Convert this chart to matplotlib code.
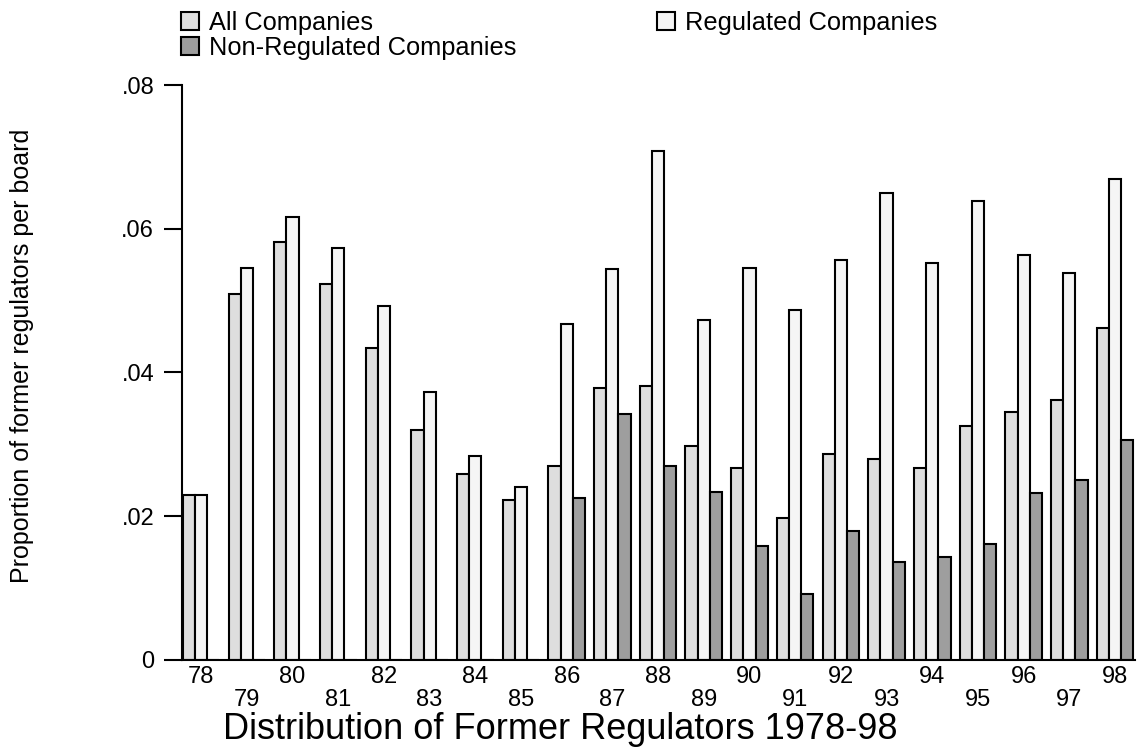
import matplotlib
matplotlib.use("Agg")
import matplotlib.pyplot as plt
import numpy as np

plt.rcParams["font.family"] = ["Liberation Sans", "DejaVu Sans"]

years = ["78", "79", "80", "81", "82", "83", "84", "85", "86", "87", "88",
         "89", "90", "91", "92", "93", "94", "95", "96", "97", "98"]

all_cos = [0.0229, 0.0509, 0.0581, 0.0523, 0.0434, 0.0320, 0.0259, 0.0223,
           0.0270, 0.0378, 0.0381, 0.0298, 0.0267, 0.0198, 0.0287, 0.0279,
           0.0267, 0.0326, 0.0345, 0.0362, 0.0462]
regulated = [0.0229, 0.0545, 0.0617, 0.0573, 0.0492, 0.0373, 0.0284, 0.0240,
             0.0468, 0.0544, 0.0708, 0.0473, 0.0546, 0.0487, 0.0557, 0.0650,
             0.0552, 0.0638, 0.0563, 0.0538, 0.0669]
non_regulated = [0, 0, 0, 0, 0, 0, 0, 0,
                 0.0226, 0.0342, 0.0270, 0.0234, 0.0159, 0.0092, 0.0179, 0.0137,
                 0.0143, 0.0162, 0.0232, 0.0251, 0.0306]

C_ALL = "#dedede"
C_REG = "#f5f5f5"
C_NON = "#9e9e9e"

x = np.arange(len(years))
w = 0.267
EDGE = dict(edgecolor="black", linewidth=1.5)

fig = plt.figure(figsize=(11.37, 7.51), dpi=100)
ax = fig.add_axes([0.160, 0.1212, 0.838, 0.7656])

b1 = ax.bar(x - w, all_cos, w, color=C_ALL, label="All Companies", **EDGE)
b2 = ax.bar(x, regulated, w, color=C_REG, label="Regulated Companies", **EDGE)
b3 = ax.bar(x + w, non_regulated, w, color=C_NON, label="Non-Regulated Companies", **EDGE)

ax.set_xlim(-0.42, 20.43)
ax.set_ylim(0, 0.08)
ax.set_yticks([0, 0.02, 0.04, 0.06, 0.08])
ax.set_yticklabels(["0", ".02", ".04", ".06", ".08"])
ax.tick_params(axis="y", length=13, width=1.5, pad=7, labelsize=17)

# even years on the upper row, odd years on the lower row
ax.set_xticks(x[::2])
ax.set_xticklabels(years[::2])
ax.set_xticks(x[1::2], minor=True)
ax.set_xticklabels(years[1::2], minor=True)
ax.tick_params(axis="x", which="major", length=0, pad=4, labelsize=17)
ax.tick_params(axis="x", which="minor", length=0, pad=21, labelsize=17)

ax.spines[["top", "right"]].set_visible(False)
ax.spines["left"].set_linewidth(1.5)
ax.spines["bottom"].set_linewidth(1.5)

ax.set_xlabel("Distribution of Former Regulators 1978-98", fontsize=26)
ax.xaxis.set_label_coords(0.397, -0.091)
fig.text(22 / 1137, 1 - 356 / 751, "Proportion of former regulators per board",
         rotation=90, ha="center", va="center", fontsize=18)

leg_kw = dict(frameon=False, loc="upper left", fontsize=18.3, borderpad=0,
              borderaxespad=0, handlelength=0.72, handleheight=0.72,
              handletextpad=0.4, labelspacing=0.05)
leg1 = fig.legend([b1, b3], ["All Companies", "Non-Regulated Companies"],
                  bbox_to_anchor=(181 / 1137, 1 - 11 / 751), **leg_kw)
leg2 = fig.legend([b2], ["Regulated Companies"],
                  bbox_to_anchor=(657 / 1137, 1 - 11 / 751), **leg_kw)

fig.savefig("out.png", dpi=100)
